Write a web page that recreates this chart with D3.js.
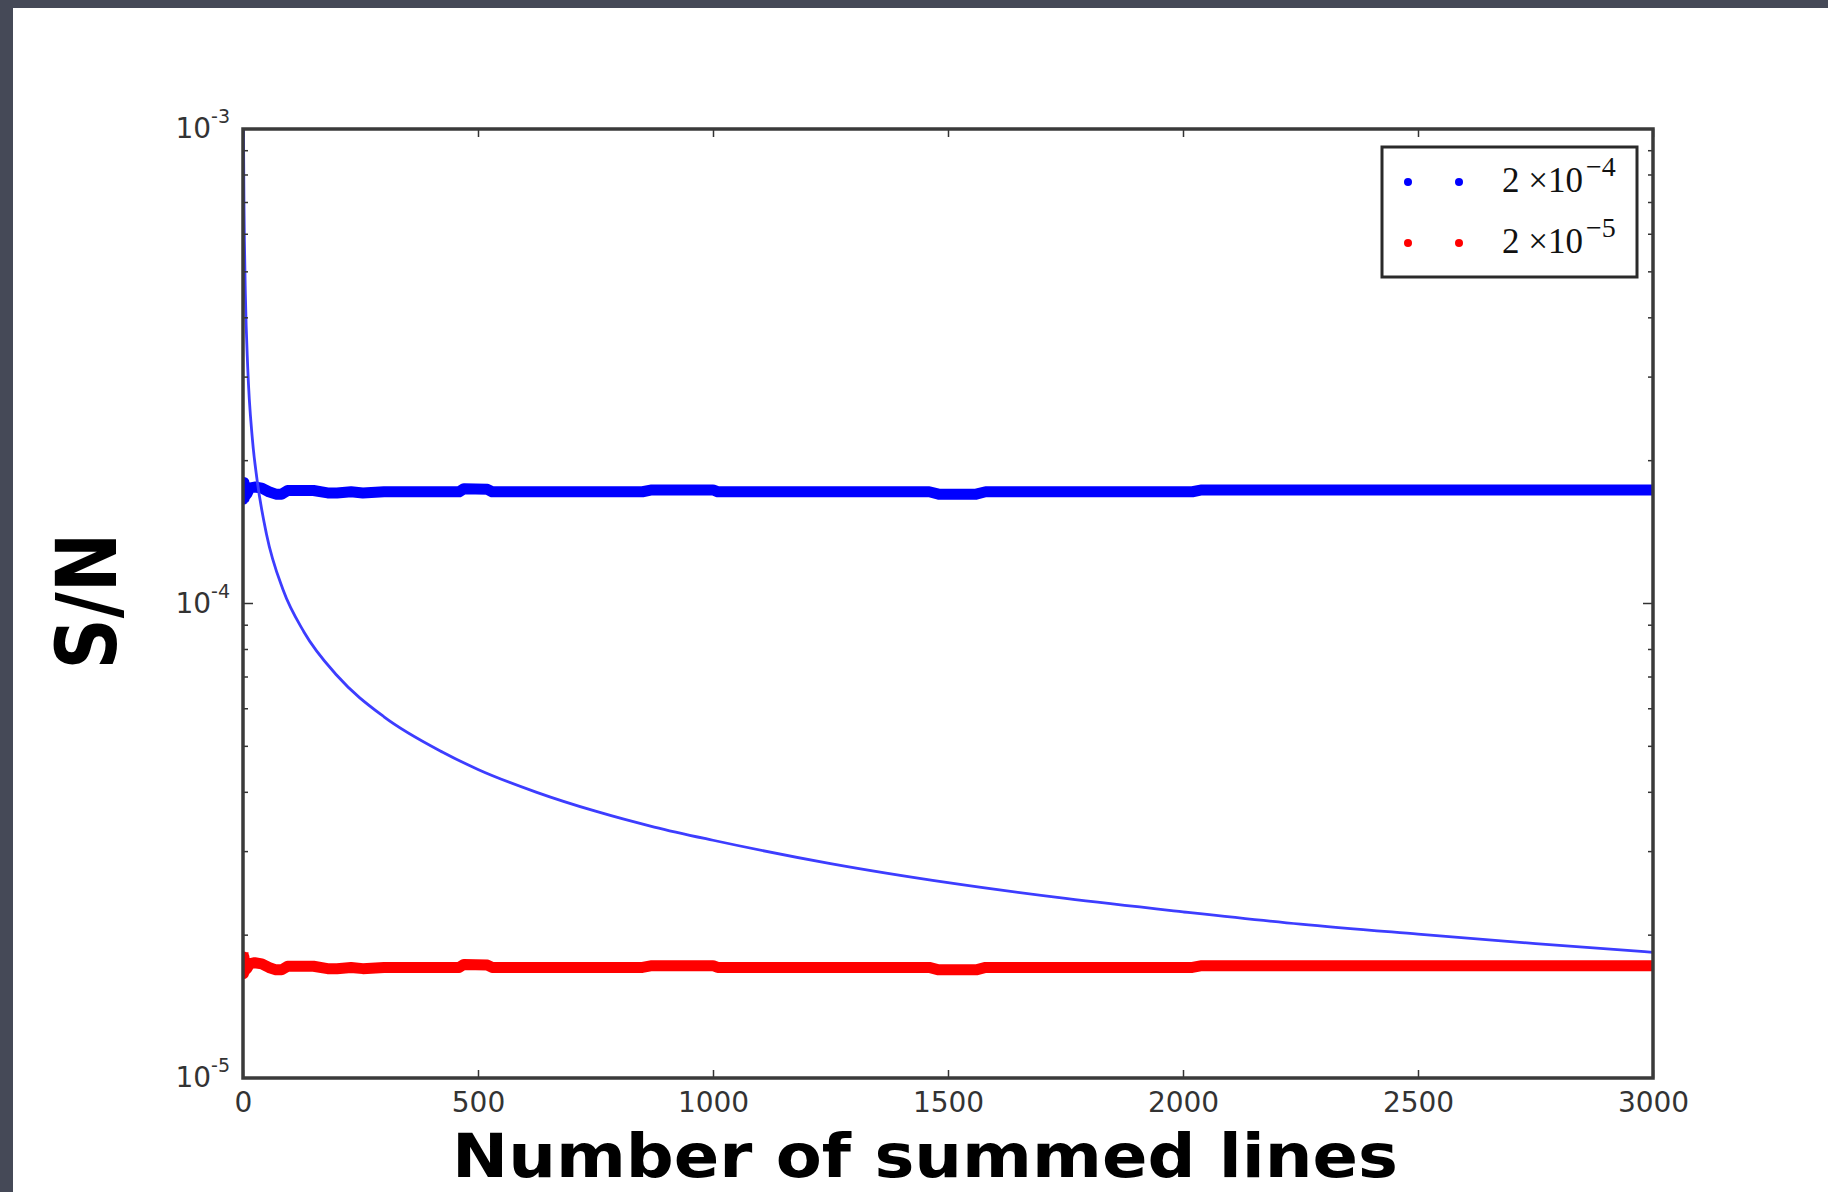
<!DOCTYPE html>
<html>
<head>
<meta charset="utf-8">
<script src="https://cdn.jsdelivr.net/npm/d3@7"></script>
<style>
  body { margin: 0; background: #4a4e5b; }
  svg { display: block; }
</style>
</head>
<body>
<div id="chart"></div>
<script>
// x ticks and y decades
const xTicks = [0, 500, 1000, 1500, 2000, 2500, 3000];
const yDecades = [-5, -4, -3];

// thick blue series (dots)
const blueN = [0, 1, 2, 3, 5, 8, 14, 25, 40, 55, 70, 82, 95, 150, 180, 200, 230, 255, 300, 460, 470, 520, 530, 850, 870, 1000, 1010, 1460, 1480, 1560, 1580, 2020, 2040, 3000];
const blueSN = [1.82e-4, 1.66e-4, 1.80e-4, 1.67e-4, 1.76e-4, 1.70e-4, 1.75e-4, 1.76e-4, 1.75e-4, 1.72e-4, 1.70e-4, 1.70e-4, 1.73e-4, 1.73e-4, 1.71e-4, 1.71e-4, 1.72e-4, 1.71e-4, 1.72e-4, 1.72e-4, 1.745e-4, 1.74e-4, 1.72e-4, 1.72e-4, 1.735e-4, 1.735e-4, 1.72e-4, 1.72e-4, 1.70e-4, 1.70e-4, 1.72e-4, 1.72e-4, 1.735e-4, 1.735e-4];

// thick red series (dots)
const redN = [0, 1, 2, 3, 5, 8, 14, 25, 40, 55, 70, 82, 95, 150, 180, 200, 230, 255, 300, 460, 470, 520, 530, 850, 870, 1000, 1010, 1460, 1480, 1560, 1580, 2020, 2040, 3000];
const redSN = [1.84e-5, 1.66e-5, 1.80e-5, 1.68e-5, 1.76e-5, 1.70e-5, 1.74e-5, 1.75e-5, 1.74e-5, 1.71e-5, 1.69e-5, 1.69e-5, 1.72e-5, 1.72e-5, 1.70e-5, 1.70e-5, 1.71e-5, 1.70e-5, 1.71e-5, 1.71e-5, 1.735e-5, 1.73e-5, 1.71e-5, 1.71e-5, 1.725e-5, 1.725e-5, 1.71e-5, 1.71e-5, 1.69e-5, 1.69e-5, 1.71e-5, 1.71e-5, 1.725e-5, 1.725e-5];

// thin decaying blue curve
const curveN = [1, 2, 3, 5, 10, 20, 30, 50, 85, 130, 200, 300, 425, 500, 625, 750, 875, 1000, 1250, 1500, 1750, 2000, 2250, 2500, 2750, 3000];
const curveSN = [1.0e-3, 7.1e-4, 5.8e-4, 4.5e-4, 3.15e-4, 2.22e-4, 1.82e-4, 1.40e-4, 1.07e-4, 8.7e-5, 7.05e-5, 5.77e-5, 4.86e-5, 4.47e-5, 4.0e-5, 3.65e-5, 3.38e-5, 3.17e-5, 2.83e-5, 2.58e-5, 2.39e-5, 2.24e-5, 2.11e-5, 2.01e-5, 1.92e-5, 1.84e-5];

// legend
const legendMantissa = ["2 \u00d710", "2 \u00d710"];
const legendExponent = ["\u22124", "\u22125"];

const W = 1828, H = 1192;
const plot = {left: 243, right: 1653, top: 129, bottom: 1078};

const svg = d3.select("#chart")
    .append("svg")
    .attr("width", W)
    .attr("height", H);

// slide background + white panel
svg.append("rect").attr("width", W).attr("height", H).attr("fill", "#454957");
svg.append("rect").attr("x", 13).attr("y", 8).attr("width", W - 13).attr("height", H - 8).attr("fill", "#fff");

const x = d3.scaleLinear().domain([0, 3000]).range([plot.left, plot.right]);
const y = d3.scaleLog().domain([1e-5, 1e-3]).range([plot.bottom, plot.top]);

svg.append("clipPath").attr("id", "clip")
    .append("rect")
    .attr("x", plot.left).attr("y", plot.top)
    .attr("width", plot.right - plot.left).attr("height", plot.bottom - plot.top);

const g = svg.append("g").attr("clip-path", "url(#clip)");

const line = d3.line()
    .x(d => x(d[0]))
    .y(d => y(d[1]));

// thick bands
g.append("path")
    .datum(d3.zip(blueN, blueSN))
    .attr("fill", "none")
    .attr("stroke", "#0000ff")
    .attr("stroke-width", 11)
    .attr("stroke-linejoin", "round")
    .attr("d", line);

g.append("path")
    .datum(d3.zip(redN, redSN))
    .attr("fill", "none")
    .attr("stroke", "#ff0000")
    .attr("stroke-width", 11)
    .attr("stroke-linejoin", "round")
    .attr("d", line);

// thin curve
g.append("path")
    .datum(d3.zip(curveN, curveSN))
    .attr("fill", "none")
    .attr("stroke", "#3d3dff")
    .attr("stroke-width", 2.8)
    .attr("d", line.curve(d3.curveMonotoneX));

// ticks
const tickColor = "#333";
const xAxis = svg.append("g")
    .attr("transform", `translate(0,${plot.bottom})`)
    .call(d3.axisBottom(x).tickValues(xTicks).tickSizeInner(-8).tickSizeOuter(0).tickPadding(14).tickFormat(d3.format("d")));
xAxis.select(".domain").remove();
xAxis.selectAll("line").attr("stroke", tickColor).attr("stroke-width", 1.5);
xAxis.selectAll("text")
    .attr("font-family", "DejaVu Sans")
    .attr("font-size", 28)
    .attr("fill", "#333");

const xTop = svg.append("g")
    .attr("transform", `translate(0,${plot.top})`)
    .call(d3.axisTop(x).tickValues(xTicks).tickSizeInner(-8).tickSizeOuter(0).tickFormat(""));
xTop.select(".domain").remove();
xTop.selectAll("line").attr("stroke", tickColor).attr("stroke-width", 1.5);

const yMajor = yDecades.map(e => Math.pow(10, e));
const yMinor = [];
yDecades.slice(0, -1).forEach(e => {
  for (let k = 2; k <= 9; k++) yMinor.push(k * Math.pow(10, e));
});

[[plot.left, 1], [plot.right, -1]].forEach(([x0, dir]) => {
  svg.append("g").selectAll("line.major")
      .data(yMajor).enter().append("line")
      .attr("x1", x0).attr("x2", x0 + dir * 10)
      .attr("y1", d => y(d)).attr("y2", d => y(d))
      .attr("stroke", tickColor).attr("stroke-width", 1.5);
  svg.append("g").selectAll("line.minor")
      .data(yMinor).enter().append("line")
      .attr("x1", x0).attr("x2", x0 + dir * 5)
      .attr("y1", d => y(d)).attr("y2", d => y(d))
      .attr("stroke", tickColor).attr("stroke-width", 1.5);
});

// y tick labels 10^e
const yLab = svg.append("g").selectAll("text")
    .data(yDecades).enter().append("text")
    .attr("x", plot.left - 13)
    .attr("y", d => y(Math.pow(10, d)) + 9)
    .attr("text-anchor", "end")
    .attr("font-family", "DejaVu Sans")
    .attr("fill", "#333");
yLab.append("tspan").attr("font-size", 28).text("10");
yLab.append("tspan").attr("font-size", 19).attr("dy", -15).text(d => String(d));

// spines
svg.append("rect")
    .attr("x", plot.left).attr("y", plot.top)
    .attr("width", plot.right - plot.left).attr("height", plot.bottom - plot.top)
    .attr("fill", "none")
    .attr("stroke", "#3a3a3a")
    .attr("stroke-width", 3.5);

// legend
const legend = svg.append("g");
legend.append("rect")
    .attr("x", 1382).attr("y", 147).attr("width", 255).attr("height", 130)
    .attr("fill", "#fff").attr("stroke", "#2a2a2a").attr("stroke-width", 3);
const legendColors = ["#0000ff", "#ff0000"];
legendMantissa.forEach((m, i) => {
  const cy = 182 + i * 61;
  [1408, 1459].forEach(cx => {
    legend.append("circle").attr("cx", cx).attr("cy", cy).attr("r", 4).attr("fill", legendColors[i]);
  });
  const t = legend.append("text")
      .attr("x", 1502).attr("y", cy + 10)
      .attr("font-family", "Liberation Serif, DejaVu Serif, serif")
      .attr("fill", "#111");
  t.append("tspan").attr("font-size", 35).text(m);
  t.append("tspan").attr("font-size", 28).attr("dy", -16).attr("dx", 3).text(legendExponent[i]);
});

// axis labels
svg.append("text")
    .attr("x", 452).attr("y", 1177)
    .attr("font-family", "DejaVu Sans")
    .attr("font-weight", "bold")
    .attr("font-size", 60)
    .attr("textLength", 946)
    .attr("lengthAdjust", "spacingAndGlyphs")
    .attr("fill", "#000")
    .text("Number of summed lines");

svg.append("text")
    .attr("transform", "translate(116,601) rotate(-90)")
    .attr("text-anchor", "middle")
    .attr("font-family", "DejaVu Sans")
    .attr("font-weight", "bold")
    .attr("font-size", 84)
    .attr("textLength", 137)
    .attr("lengthAdjust", "spacingAndGlyphs")
    .attr("fill", "#000")
    .text("S/N");
</script>
</body>
</html>
